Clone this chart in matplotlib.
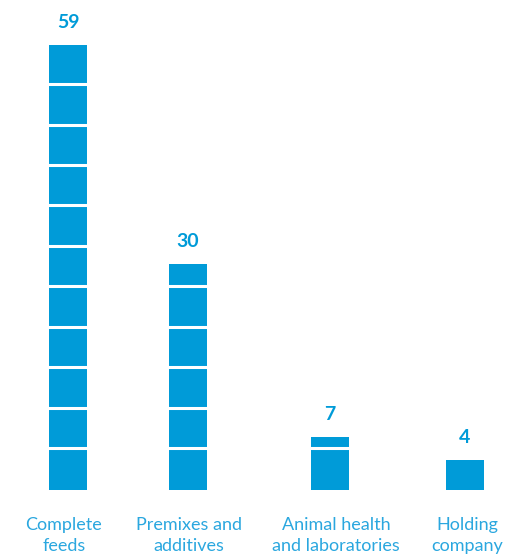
import matplotlib.pyplot as plt

categories = ['Complete\nfeeds', 'Premixes and\nadditives', 'Animal health\nand laboratories', 'Holding\ncompany']
values = [59, 30, 7, 4]
# horizontal centres of the bars, in pixels (layout only)
xpos = [68, 188, 330, 465]
label_x = [64, 189, 336, 467]

blue = '#009bd8'
step = 59 / 11  # height of one block

fig = plt.figure(figsize=(5.11, 5.54), dpi=100)
ax = fig.add_axes([0, 64 / 554, 1, 490 / 554])
ax.set_xlim(0, 511)
ax.set_ylim(0, 490 / 7.54)
ax.axis('off')

ax.bar(xpos, values, width=38, color=blue, linewidth=0)

# white separators between blocks
for x, v in zip(xpos, values):
    k = 1
    while k * step < v - 0.3:
        ax.hlines(k * step + 0.2, x - 20, x + 20, color='white', lw=2.2)
        k += 1

for x, v in zip(xpos, values):
    ax.annotate(str(v), (x, v), xytext=(0, 10), textcoords='offset points',
                ha='center', va='bottom', fontsize=14, fontweight='bold',
                color=blue, family='Lato')

for x, lab in zip(label_x, categories):
    ax.text(x, -3.6, lab, ha='center', va='top', fontsize=13,
            color='#2aa7df', family='Lato', linespacing=1.4)

fig.savefig('out.png', dpi=100)
